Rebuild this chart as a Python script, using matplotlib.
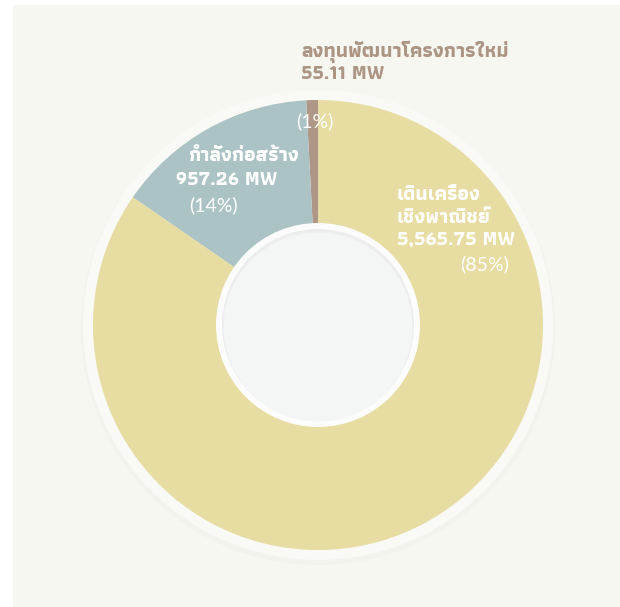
import matplotlib
matplotlib.use("Agg")
import matplotlib.pyplot as plt
from matplotlib.patches import Rectangle, Circle

# data (MW), counter-clockwise from 12 o'clock
labels = ["ลงทุนพัฒนาโครงการใหม่", "กำลังก่อสร้าง", "เดินเครื่อง\nเชิงพาณิชย์"]
values = [55.11, 957.26, 5565.75]
pct_labels = ["(1%)", "(14%)", "(85%)"]
colors = ["#ae9786", "#abc3c4", "#e7dca2"]

FONT = ["Athiti", "DejaVu Sans"]
PCT_FONT = ["Lato", "DejaVu Sans"]
W, H = 620, 607
cx, cy = 318, 325  # donut centre in pixels, from top

fig = plt.figure(figsize=(W / 100, H / 100), dpi=100)
fig.patch.set_facecolor("white")
ax = fig.add_axes([0, 0, 1, 1])


def py(y):
    # pixel row (from top) -> data y
    return H - y


# background panel
ax.add_patch(Rectangle((13, 0), W - 13, H - 5, facecolor="#f7f7f2", edgecolor="none", zorder=0))

# soft outer halo behind the donut
ax.add_patch(Circle((cx, py(cy + 3)), 237, facecolor="#f3f3ee", edgecolor="none", zorder=1))
ax.add_patch(Circle((cx, py(cy)), 235, facecolor="#f9f9f6", edgecolor="none", zorder=1))

wedges, _ = ax.pie(values, colors=colors, startangle=90, counterclock=True,
                   center=(cx, py(cy)), radius=225, frame=True,
                   wedgeprops=dict(linewidth=0, edgecolor="none"))
for w in wedges:
    w.set_zorder(2)
ax.set_xlim(0, W)
ax.set_ylim(0, H)
ax.set_aspect("equal")
ax.axis("off")

# centre hole: white rim + grey disc with a faint inner shadow
ax.add_patch(Circle((cx, py(cy)), 102, facecolor="#fcfcfc", edgecolor="none", zorder=3))
ax.add_patch(Circle((cx, py(cy)), 96, facecolor="#ededed", edgecolor="none", zorder=3))
ax.add_patch(Circle((cx, py(cy + 2)), 94.5, facecolor="#f4f5f5", edgecolor="none", zorder=3))

bold = dict(family=FONT, fontsize=14.5, fontweight="bold", zorder=5)
reg = dict(family=PCT_FONT, fontsize=14, fontweight="normal", color="white", zorder=5)

# new projects (brown, outside)
ax.text(301, py(57), labels[0], color="#ad9584", ha="left", va="baseline", **bold)
ax.text(301, py(79), f"{values[0]:,.2f} MW", color="#ad9584", ha="left", va="baseline", **bold)
ax.text(315, py(127), pct_labels[0], ha="center", va="baseline", **reg)

# under construction (blue)
ax.text(188, py(161), labels[1], color="white", ha="left", va="baseline", **bold)
ax.text(176, py(185), f"{values[1]:,.2f} MW", color="white", ha="left", va="baseline", **bold)
ax.text(213, py(211), pct_labels[1], ha="center", va="baseline", **reg)

# commercial operation (yellow)
l1, l2 = labels[2].split("\n")
ax.text(397, py(200), l1, color="white", ha="left", va="baseline", **bold)
ax.text(397, py(223), l2, color="white", ha="left", va="baseline", **bold)
ax.text(397, py(245), f"{values[2]:,.2f} MW", color="white", ha="left", va="baseline", **bold)
ax.text(485, py(270), pct_labels[2], ha="center", va="baseline", **reg)

fig.savefig("out.png", dpi=100, facecolor="white")
